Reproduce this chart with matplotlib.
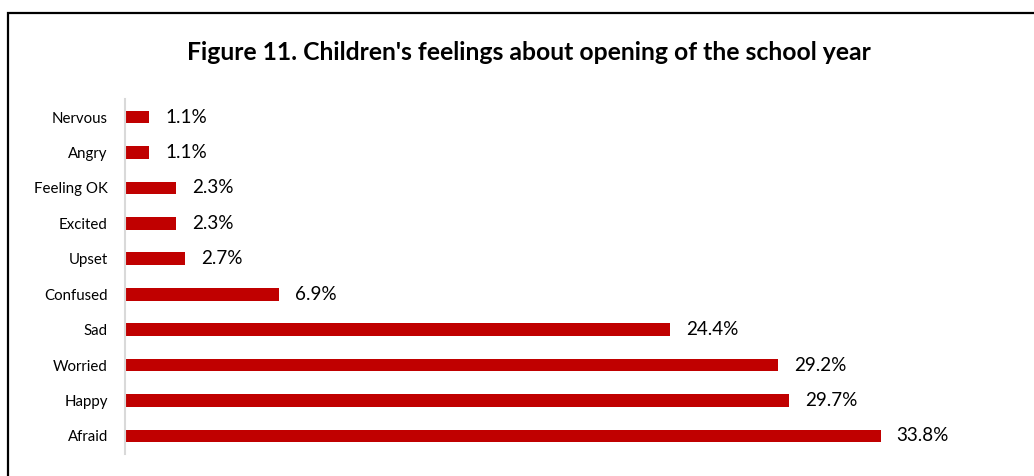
import matplotlib
matplotlib.use("Agg")
import matplotlib.pyplot as plt
from matplotlib.patches import Rectangle

feelings = ["Afraid", "Happy", "Worried", "Sad", "Confused",
            "Upset", "Excited", "Feeling OK", "Angry", "Nervous"]
shares = [33.8, 29.7, 29.2, 24.4, 6.9, 2.7, 2.3, 2.3, 1.1, 1.1]

plt.rcParams['font.family'] = ['Lato', 'DejaVu Sans']

W, H = 1034, 476
fig = plt.figure(figsize=(W / 100, H / 100), dpi=100)

# outer frame (runs off the right and bottom edges)
fig.patches.append(Rectangle((8 / W, -0.1), 1.2, 1 - 13 / H + 0.1,
                             transform=fig.transFigure, fill=False,
                             edgecolor="black", linewidth=1.6))

ax = fig.add_axes([124.5 / W, 1 - 453.7 / H, 894.8 / W, 354.4 / H])
pos = range(len(feelings))
ax.barh(pos, shares, height=0.36, color="#C00000")
ax.set_xlim(0, 40)
ax.set_ylim(-0.5, len(feelings) - 0.5)
ax.set_yticks(list(pos))
ax.set_yticklabels(feelings, fontsize=10.8)
ax.tick_params(axis="y", length=0, pad=12)
ax.set_xticks([])
for s in ["top", "right", "bottom"]:
    ax.spines[s].set_visible(False)
ax.spines["left"].set_color("#D9D9D9")
ax.spines["left"].set_linewidth(1.5)

for y, v in zip(pos, shares):
    ax.annotate(f"{v:.1f}%", (v, y), xytext=(16, 0), textcoords="offset pixels",
                va="center", ha="left", fontsize=13.6)

fig.text(529 / W, 1 - 53 / H, "Figure 11. Children's feelings about opening of the school year",
         ha="center", va="center", fontsize=17.8, fontweight="bold")

fig.savefig("out.png", dpi=100)
